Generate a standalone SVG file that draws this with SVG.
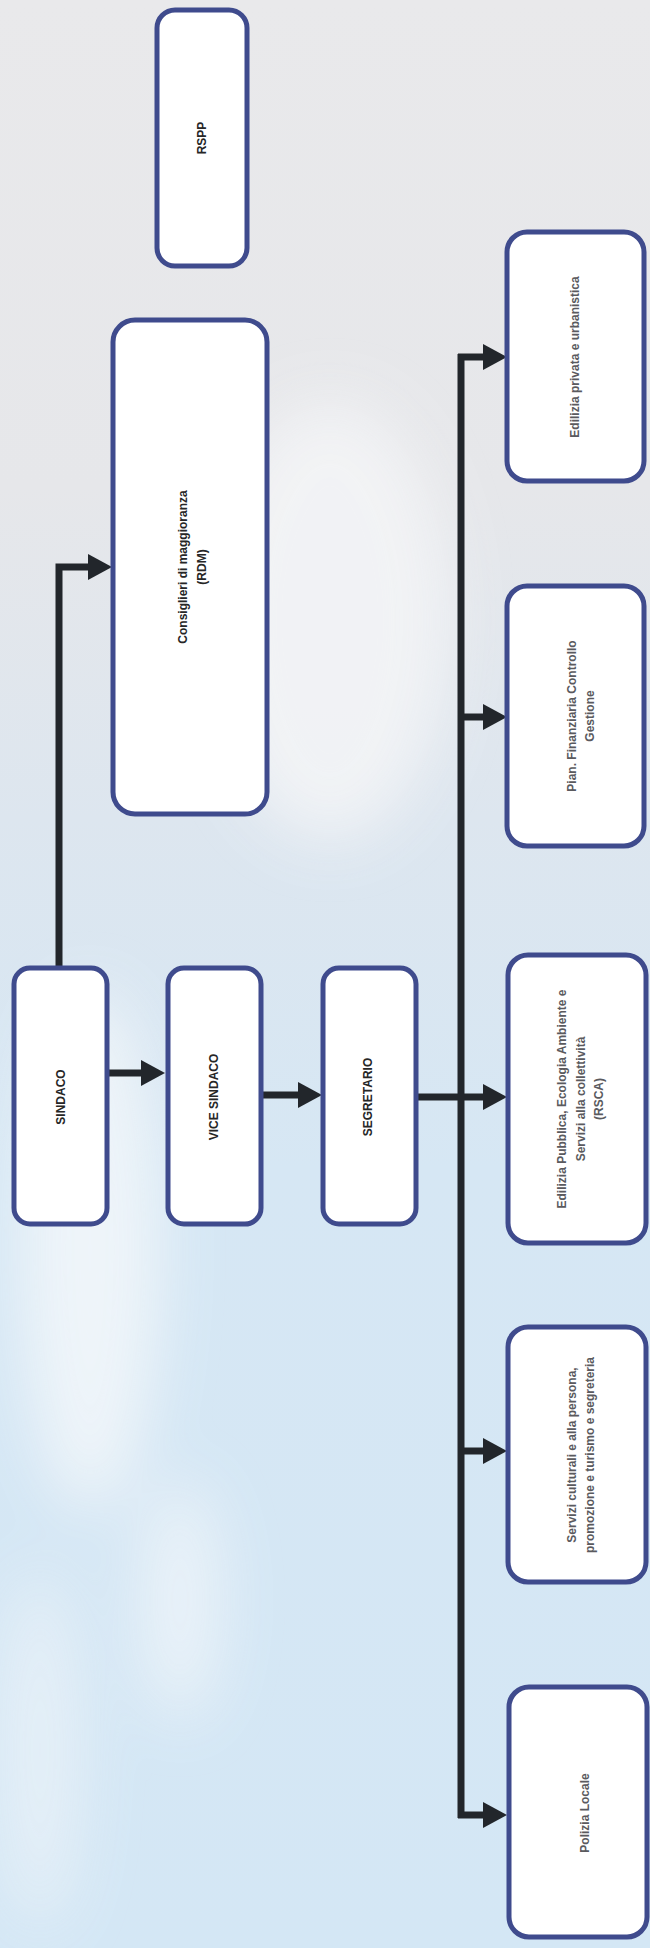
<svg xmlns="http://www.w3.org/2000/svg" width="650" height="1948" viewBox="0 0 650 1948">
  <defs>
    <linearGradient id="bg" x1="0" y1="0" x2="0" y2="1">
      <stop offset="0" stop-color="#e9e9eb"/>
      <stop offset="0.25" stop-color="#e6e7ea"/>
      <stop offset="0.42" stop-color="#dde6ef"/>
      <stop offset="0.6" stop-color="#d6e7f4"/>
      <stop offset="1" stop-color="#d4e7f5"/>
    </linearGradient>
    <filter id="blur" x="-50%" y="-50%" width="200%" height="200%">
      <feGaussianBlur stdDeviation="30"/>
    </filter>
    <marker id="arrow" viewBox="0 0 24 26" refX="0" refY="13" markerWidth="24" markerHeight="26" markerUnits="userSpaceOnUse" orient="auto">
      <path d="M0,0 L24,13 L0,26 Z" fill="#22262b"/>
    </marker>
    <style>
      .box { fill: #ffffff; stroke: #3f4b8d; stroke-width: 5; }
      .conn { fill: none; stroke: #22262b; stroke-width: 7; stroke-linejoin: miter; }
      .bus { fill: none; stroke: #22262b; stroke-width: 7; }
      .lbl { font-family: "Liberation Sans", Arial, sans-serif; font-weight: bold; font-size: 12px; text-anchor: middle; }
      .dark { fill: #262626; }
      .gray { fill: #5a5a5e; }
    </style>
  </defs>

  <!-- background -->
  <rect x="0" y="0" width="650" height="1948" fill="url(#bg)"/>
  <g filter="url(#blur)" opacity="0.85">
    <ellipse cx="330" cy="620" rx="120" ry="220" fill="#f4f5f7"/>
    <ellipse cx="90" cy="1250" rx="70" ry="260" fill="#f3f7fa"/>
    <ellipse cx="180" cy="1600" rx="40" ry="120" fill="#eef4f9"/>
    <ellipse cx="40" cy="1750" rx="40" ry="180" fill="#e8f1f8"/>
  </g>

  <!-- connectors -->
  <g id="connectors">
    <path class="conn" d="M59,968 L59,567 L88,567" marker-end="url(#arrow)"/>
    <path class="conn" d="M108,1073 L141,1073" marker-end="url(#arrow)"/>
    <path class="conn" d="M262,1095 L298,1095" marker-end="url(#arrow)"/>
    <path class="conn" d="M417,1097 L483,1097" marker-end="url(#arrow)"/>
    <path class="bus" d="M461,354 L461,1818"/>
    <path class="conn" d="M458,357 L483,357" marker-end="url(#arrow)"/>
    <path class="conn" d="M458,717 L483,717" marker-end="url(#arrow)"/>
    <path class="conn" d="M458,1451 L483,1451" marker-end="url(#arrow)"/>
    <path class="conn" d="M458,1815 L483,1815" marker-end="url(#arrow)"/>
  </g>

  <!-- nodes -->
  <g id="rspp">
    <rect class="box" x="157" y="10" width="90" height="256" rx="18"/>
    <text class="lbl dark" transform="translate(202,138) rotate(-90)" y="4">RSPP</text>
  </g>
  <g id="consiglieri">
    <rect class="box" x="113" y="320" width="154" height="494" rx="22"/>
    <text class="lbl dark" transform="translate(192,567) rotate(-90)"><tspan x="0" y="-5">Consiglieri di maggioranza</tspan><tspan x="0" y="14">(RDM)</tspan></text>
  </g>
  <g id="sindaco">
    <rect class="box" x="14" y="968" width="93" height="256" rx="16"/>
    <text class="lbl dark" transform="translate(61,1097) rotate(-90)" y="4">SINDACO</text>
  </g>
  <g id="vicesindaco">
    <rect class="box" x="168" y="968" width="93" height="256" rx="16"/>
    <text class="lbl dark" transform="translate(214,1097) rotate(-90)" y="4">VICE SINDACO</text>
  </g>
  <g id="segretario">
    <rect class="box" x="323" y="968" width="93" height="256" rx="16"/>
    <text class="lbl dark" transform="translate(368,1097) rotate(-90)" y="4">SEGRETARIO</text>
  </g>
  <g id="edilizia-privata">
    <rect class="box" x="507" y="232" width="137" height="249" rx="20"/>
    <text class="lbl gray" transform="translate(575,357) rotate(-90)" y="4">Edilizia privata e urbanistica</text>
  </g>
  <g id="pian-finanziaria">
    <rect class="box" x="507" y="586" width="137" height="260" rx="20"/>
    <text class="lbl gray" transform="translate(581,716) rotate(-90)"><tspan x="0" y="-5">Pian. Finanziaria Controllo</tspan><tspan x="0" y="13">Gestione</tspan></text>
  </g>
  <g id="edilizia-pubblica">
    <rect class="box" x="508" y="955" width="138" height="288" rx="20"/>
    <text class="lbl gray" transform="translate(581,1099) rotate(-90)"><tspan x="0" y="-15">Edilizia Pubblica, Ecologia Ambiente e</tspan><tspan x="0" y="4">Servizi alla collettività</tspan><tspan x="0" y="22">(RSCA)</tspan></text>
  </g>
  <g id="servizi-culturali">
    <rect class="box" x="508" y="1327" width="138" height="255" rx="20"/>
    <text class="lbl gray" transform="translate(581,1455) rotate(-90)"><tspan x="0" y="-5">Servizi culturali e alla persona,</tspan><tspan x="0" y="13">promozione e turismo e segreteria</tspan></text>
  </g>
  <g id="polizia-locale">
    <rect class="box" x="509" y="1687" width="138" height="250" rx="20"/>
    <text class="lbl gray" transform="translate(585,1813) rotate(-90)" y="4">Polizia Locale</text>
  </g>
</svg>
